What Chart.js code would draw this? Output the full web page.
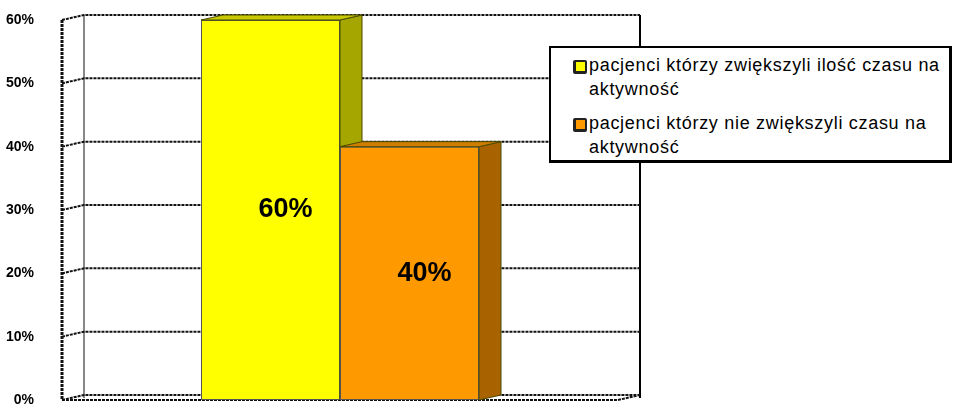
<!DOCTYPE html>
<html>
<head>
<meta charset="utf-8">
<script src="https://cdn.jsdelivr.net/npm/chart.js@4/dist/chart.umd.min.js"></script>
<style>
    body { margin: 0; background: #fff; }
    #wrap { position: relative; width: 953px; height: 405px; overflow: hidden; }
    #legend {
        position: absolute; left: 549px; top: 46px; width: 398px; height: 107px;
        border: 2px solid #000; border-bottom-width: 3px; border-right-width: 3px;
        background: #fff; font-family: "Liberation Sans", Arial, sans-serif; font-size: 18px;
        letter-spacing: 0.7px; color: #000; padding: 5px 0 0 0; box-sizing: content-box;
    }
    .item { position: relative; padding-left: 38px; width: 358px; line-height: 24px; margin-bottom: 10px; }
    .box { position: absolute; left: 22px; top: 7px; width: 9px; height: 9px; border: 2px solid #222; border-left-width: 3px; border-bottom-width: 3px; border-radius: 2px; }
</style>
</head>
<body>
<div id="wrap">
    <canvas id="chart" width="953" height="405"></canvas>
    <div id="legend"></div>
</div>
<script>
const categories = [""];
const seriesNames = [
    "pacjenci którzy zwiększyli ilość czasu na aktywność",
    "pacjenci którzy nie zwiększyli czasu na aktywność"
];
const seriesValues = [[60], [40]];
const tickValues = [0, 10, 20, 30, 40, 50, 60];

const frontColors = ["#FFFF00", "#FF9900"];
const sideColors = ["#A6A600", "#A86200"];
const topColors = ["#C8C800", "#D07E00"];
const depthX = 22, depthY = 5;

// back wall + gridlines (3d look)
const wallPlugin = {
    id: "wall",
    beforeDatasetsDraw(chart) {
        const ctx = chart.ctx;
        const area = chart.chartArea;
        const y = chart.scales.y;
        ctx.save();
        // back wall verticals
        ctx.strokeStyle = "#888";
        ctx.lineWidth = 2;
        ctx.beginPath();
        ctx.moveTo(area.left + depthX, y.getPixelForValue(60) - depthY);
        ctx.lineTo(area.left + depthX, area.bottom - 2);
        ctx.stroke();
        ctx.strokeStyle = "#000";
        ctx.beginPath();
        ctx.moveTo(area.right + depthX, y.getPixelForValue(60) - depthY);
        ctx.lineTo(area.right + depthX, area.bottom - 2);
        ctx.stroke();

        ctx.strokeStyle = "#111";
        ctx.lineWidth = 2;
        ctx.setLineDash([3, 1]);
        tickValues.forEach(v => {
            const py = y.getPixelForValue(v);
            ctx.beginPath();
            ctx.moveTo(area.left, py);
            ctx.lineTo(area.left + depthX, py - depthY);
            ctx.lineTo(area.right + depthX, py - depthY);
            if (v === 0) {
                ctx.moveTo(area.left, py);
                ctx.lineTo(area.right, py);
                ctx.lineTo(area.right + depthX, py - depthY);
            }
            ctx.stroke();
        });
        // front axis
        ctx.lineWidth = 3;
        ctx.beginPath();
        ctx.moveTo(area.left, y.getPixelForValue(60));
        ctx.lineTo(area.left, area.bottom);
        ctx.stroke();
        ctx.restore();
    }
};

function poly(ctx, pts, fill) {
    ctx.beginPath();
    ctx.moveTo(pts[0][0], pts[0][1]);
    for (let i = 1; i < pts.length; i++) ctx.lineTo(pts[i][0], pts[i][1]);
    ctx.closePath();
    ctx.fillStyle = fill;
    ctx.fill();
    ctx.stroke();
}

// side/top faces and value labels
const barsPlugin = {
    id: "bars3d",
    afterDatasetsDraw(chart) {
        const ctx = chart.ctx;
        ctx.save();
        chart.data.datasets.forEach((ds, i) => {
            const meta = chart.getDatasetMeta(i);
            meta.data.forEach((bar, j) => {
                bar.draw(ctx);
                const p = bar.getProps(["x", "y", "base", "width"], true);
                const l = p.x - p.width / 2, r = p.x + p.width / 2;
                ctx.strokeStyle = "#4a4a00";
                ctx.lineWidth = 1;
                ctx.setLineDash([]);
                poly(ctx, [[r, p.y], [r + depthX, p.y - depthY], [r + depthX, p.base - depthY], [r, p.base]], sideColors[i]);
                poly(ctx, [[l, p.y], [l + depthX, p.y - depthY], [r + depthX, p.y - depthY], [r, p.y]], topColors[i]);
                ctx.fillStyle = "#000";
                ctx.font = "bold 27px 'Liberation Sans', Arial, sans-serif";
                ctx.textAlign = "center";
                ctx.textBaseline = "middle";
                ctx.fillText(ds.data[j] + "%", p.x + 15, (p.y + p.base) / 2);
            });
        });
        ctx.restore();
    }
};

const legend = document.getElementById("legend");
seriesNames.forEach((name, i) => {
    const div = document.createElement("div");
    div.className = "item";
    div.innerHTML = `<span class="box" style="background:${frontColors[i]}"></span>${name}`;
    legend.appendChild(div);
});

new Chart(document.getElementById("chart"), {
    type: "bar",
    data: {
        labels: categories,
        datasets: seriesNames.map((name, i) => ({
            label: name,
            data: seriesValues[i],
            backgroundColor: frontColors[i],
            borderColor: "#555",
            borderWidth: 1,
            borderSkipped: false,
            categoryPercentage: 0.5,
            barPercentage: 1
        }))
    },
    options: {
        responsive: false,
        animation: false,
        layout: { padding: { top: 20, right: 335, bottom: 5, left: 0 } },
        plugins: { legend: { display: false }, tooltip: { enabled: false } },
        scales: {
            x: { display: false },
            y: {
                min: 0,
                max: 60,
                afterFit(scale) {
                    scale.width = 62;
                    scale.paddingTop = 0;
                    scale.paddingBottom = 0;
                },
                afterBuildTicks(scale) {
                    scale.ticks = tickValues.map(v => ({ value: v }));
                },
                grid: { display: false },
                border: { display: false },
                ticks: {
                    padding: 20,
                    color: "#000",
                    font: { family: "'Liberation Sans', Arial, sans-serif", size: 14, weight: "bold" },
                    callback: v => v + "%"
                }
            }
        }
    },
    plugins: [wallPlugin, barsPlugin]
});
</script>
</body>
</html>
